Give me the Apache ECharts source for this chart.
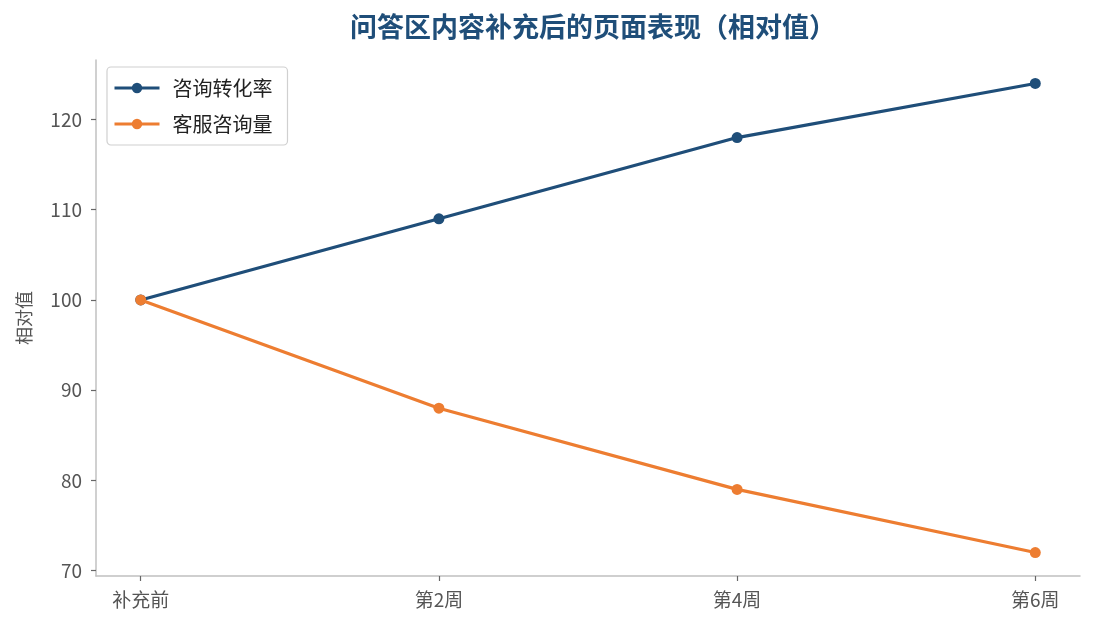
<!DOCTYPE html>
<html>
<head>
<meta charset="utf-8">
<script src="https://cdn.jsdelivr.net/npm/echarts@6/dist/echarts.min.js"></script>
<style>
  html, body { margin: 0; padding: 0; background: #fff; }
  #main { width: 1095px; height: 629px; }
</style>
</head>
<body>
<div id="main"></div>
<script>
var categories = ['补充前', '第2周', '第4周', '第6周'];
var conversion = [100, 109, 118, 124];   // 咨询转化率
var consults = [100, 88, 79, 72];         // 客服咨询量
var yTicks = [70, 80, 90, 100, 110, 120];

var font = '"Noto Sans CJK SC", "Noto Sans", sans-serif';

function toPoints(arr) {
  return arr.map(function (v, i) { return [i, v]; });
}

var myChart = echarts.init(document.getElementById('main'));
var option = {
  animation: false,
  title: {
    text: '问答区内容补充后的页面表现（相对值）',
    left: 588,
    textAlign: 'center',
    top: 8,
    textStyle: { color: '#1f4e79', fontSize: 27, fontWeight: 'bold', fontFamily: font }
  },
  legend: {
    orient: 'vertical',
    left: 107,
    top: 67,
    itemWidth: 45,
    itemHeight: 13,
    itemGap: 16,
    padding: [11, 15, 11, 6],
    borderColor: '#d0d0d0',
    borderWidth: 1.2,
    borderRadius: 4,
    lineStyle: { width: 3 },
    textStyle: { fontSize: 20, color: '#222', fontFamily: font, padding: [0, 0, 0, 8] },
    data: ['咨询转化率', '客服咨询量']
  },
  grid: { left: 96, right: 15, top: 60, bottom: 53 },
  xAxis: {
    type: 'value',
    min: -0.15,
    max: 3.15,
    splitLine: { show: false },
    axisLine: { show: true, onZero: false, lineStyle: { color: '#c0c0c0', width: 1.5 } },
    axisTick: { show: true, customValues: [0, 1, 2, 3], length: 5, lineStyle: { color: '#666', width: 1.2 } },
    axisLabel: {
      customValues: [0, 1, 2, 3],
      formatter: function (v) { return categories[Math.round(v)]; },
      color: '#555', fontSize: 19, margin: 14, fontFamily: font
    }
  },
  yAxis: {
    type: 'value',
    min: 69.4,
    max: 126.6,
    name: '相对值',
    nameLocation: 'middle',
    nameGap: 63,
    nameTextStyle: { color: '#555', fontSize: 18, fontFamily: font },
    splitLine: { show: false },
    axisLine: { show: true, onZero: false, lineStyle: { color: '#c0c0c0', width: 1.5 } },
    axisTick: { show: true, customValues: yTicks, length: 5, lineStyle: { color: '#666', width: 1.2 } },
    axisLabel: {
      customValues: yTicks,
      color: '#555', fontSize: 19, margin: 14, fontFamily: font
    }
  },
  series: [
    {
      name: '咨询转化率',
      type: 'line',
      data: toPoints(conversion),
      color: '#1f4e79',
      lineStyle: { width: 3.2 },
      symbol: 'circle',
      symbolSize: 11,
      z: 2
    },
    {
      name: '客服咨询量',
      type: 'line',
      data: toPoints(consults),
      color: '#ed7d31',
      lineStyle: { width: 3.2 },
      symbol: 'circle',
      symbolSize: 11,
      z: 3
    }
  ]
};
myChart.setOption(option);
</script>
</body>
</html>
